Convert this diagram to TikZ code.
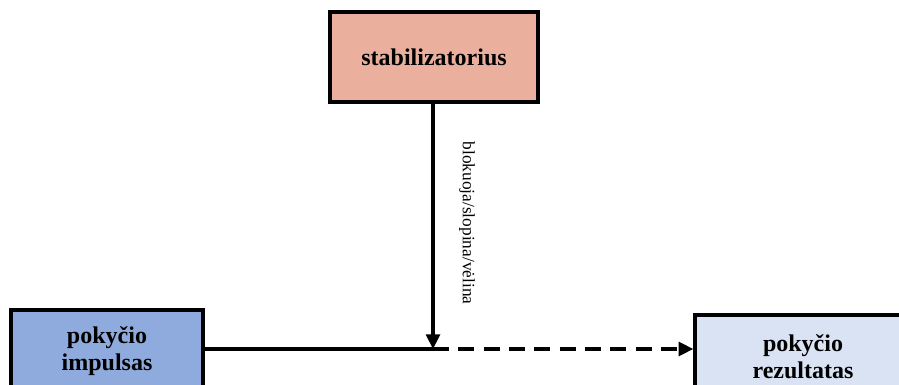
\documentclass[tikz,border=0pt]{standalone}
\usepackage{fontspec}
\setmainfont{Liberation Serif}
\usetikzlibrary{arrows.meta}
\definecolor{stabfill}{HTML}{EBAF9E}
\definecolor{impfill}{HTML}{8FAADC}
\definecolor{resfill}{HTML}{DAE3F3}
\begin{document}
\begin{tikzpicture}[x=0.75pt,y=-0.75pt,
  box/.style={draw=black, line width=2.6pt, align=center, inner sep=0pt,
    font=\fontsize{18}{20}\selectfont\bfseries},
  conn/.style={line width=2.3pt},
  tip/.style={-{Triangle[length=11pt,width=10.5pt]}},
  lbl/.style={font=\fontsize{13}{15}\selectfont, inner sep=0pt}]
\useasboundingbox (0,0) rectangle (899,385);
\node[box, fill=stabfill, minimum width=156pt, minimum height=67.5pt] (stab) at (434,57) {stabilizatorius};
\node[box, fill=impfill, minimum width=144pt, minimum height=61.5pt] (imp) at (107,351) {pokyčio\\impulsas};
\node[box, fill=resfill, minimum width=162pt, minimum height=63pt] (res) at (803,357) {pokyčio\\rezultatas};
\coordinate (j) at (433,349);
\draw[conn] (imp.east |- j) -- (j);
\draw[conn, tip] (stab.south -| j) -- (j);
\draw[conn, tip, dash pattern=on 12pt off 7pt] (j) -- (res.west |- j);
\node[lbl, rotate=-90] (lab) at (467,223) {blokuoja/slopina/vėlina};
\end{tikzpicture}
\end{document}
